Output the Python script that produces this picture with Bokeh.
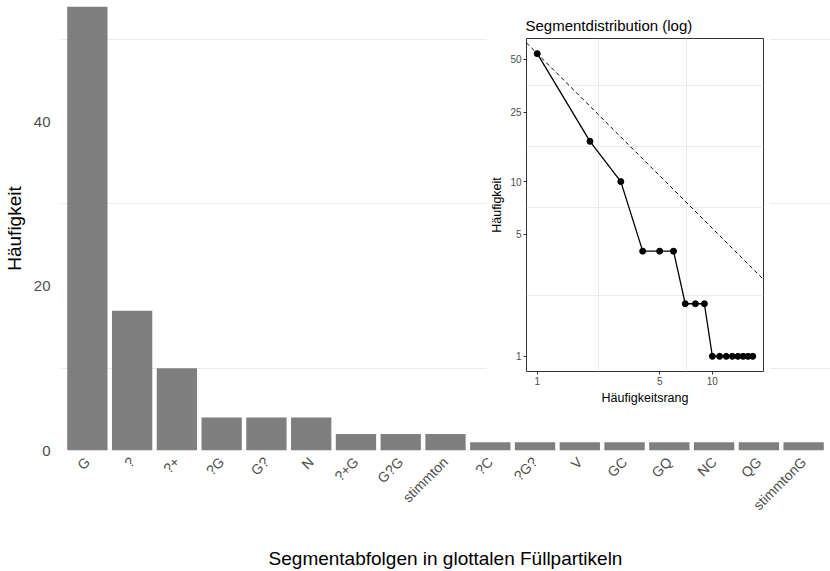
import math
import numpy as np
from bokeh.plotting import figure
from bokeh.models import (ColumnDataSource, FactorRange, Range1d, FixedTicker,
                          NumeralTickFormatter)
from bokeh.embed import file_html
from bokeh.resources import INLINE

# Segment sequences in glottal filler particles and their frequencies
segments = ["G", "?", "?+", "?G", "G?", "N", "?+G", "G?G", "stimmton",
            "?C", "?G?", "V", "GC", "GQ", "NC", "QG", "stimmtonG"]
counts = [54, 17, 10, 4, 4, 4, 2, 2, 2, 1, 1, 1, 1, 1, 1, 1, 1]
ranks = list(range(1, len(counts) + 1))

main_y_ticks = [0, 20, 40]
main_y_minor = [10, 30, 50]
inset_x_ticks = [1, 5, 10]
inset_y_ticks = [1, 5, 10, 25, 50]

FONT = "Liberation Sans"
TICK_GREY = "#4D4D4D"
GRID = "#EBEBEB"

# ---------------- main bar chart ----------------
src = ColumnDataSource(dict(seg=segments, n=counts))
p = figure(width=830, height=571,
           x_range=FactorRange(factors=segments, range_padding=0.1,
                               range_padding_units="absolute"),
           y_range=Range1d(0, max(counts)),
           output_backend="svg", toolbar_location=None,
           min_border_left=58, min_border_right=0,
           min_border_top=6, min_border_bottom=121)
p.vbar(x="seg", top="n", width=0.9, source=src,
       fill_color="#7F7F7F", line_color=None)

p.outline_line_color = None
p.background_fill_color = "white"
p.border_fill_color = "white"

yt = FixedTicker(ticks=main_y_ticks, minor_ticks=main_y_minor)
p.yaxis.ticker = yt
p.ygrid.ticker = yt
p.ygrid.grid_line_color = None
p.ygrid.minor_grid_line_color = GRID
p.ygrid.minor_grid_line_width = 1
p.xgrid.visible = False

for ax in (p.xaxis[0], p.yaxis[0]):
    ax.axis_line_color = None
    ax.major_tick_line_color = None
    ax.major_tick_out = 0
    ax.major_tick_in = 0
    ax.minor_tick_line_color = None
    ax.minor_tick_out = 0
    ax.minor_tick_in = 0
    ax.major_label_text_color = TICK_GREY
    ax.major_label_text_font = FONT
    ax.axis_label_text_font = FONT
    ax.axis_label_text_font_style = "normal"
    ax.axis_label_text_color = "black"
    ax.axis_label_text_font_size = "19px"

p.yaxis.major_label_text_font_size = "15px"
p.yaxis.major_label_standoff = 10
p.yaxis.axis_label = "Häufigkeit"
p.yaxis.axis_label_standoff = 6

p.xaxis.major_label_text_font_size = "14px"
p.xaxis.major_label_orientation = math.pi / 4
p.xaxis.major_label_standoff = 9
p.xaxis.axis_label = "Segmentabfolgen in glottalen Füllpartikeln"
p.xaxis.axis_label_standoff = 26

# ---------------- inset: rank/frequency on log axes ----------------
lx0, lx1 = 0.0, math.log10(max(ranks))
ly0, ly1 = 0.0, math.log10(max(counts))
ex, ey = 0.05 * (lx1 - lx0), 0.05 * (ly1 - ly0)
xr = Range1d(10 ** (lx0 - ex), 10 ** (lx1 + ex))
yr = Range1d(10 ** (ly0 - ey), 10 ** (ly1 + ey))

q = figure(width=284, height=410, x_axis_type="log", y_axis_type="log",
           x_range=xr, y_range=yr,
           title="Segmentdistribution (log)",
           output_backend="svg", toolbar_location=None,
           min_border_left=40, min_border_right=7,
           min_border_top=38, min_border_bottom=39)
q.styles = {"position": "absolute", "left": "486px", "top": "0px"}
q.background_fill_color = "white"
q.border_fill_color = "white"
q.outline_line_color = "#333333"
q.outline_line_width = 1

q.title.text_font = FONT
q.title.text_font_size = "15px"
q.title.text_font_style = "normal"
q.title.text_color = "black"
q.title.align = "left"
q.title.offset = -1

def minor_between(ticks):
    return [math.sqrt(a * b) for a, b in zip(ticks[:-1], ticks[1:])]

qx = FixedTicker(ticks=inset_x_ticks, minor_ticks=minor_between(inset_x_ticks))
qy = FixedTicker(ticks=inset_y_ticks, minor_ticks=minor_between(inset_y_ticks))
q.xaxis.ticker = qx
q.xgrid.ticker = qx
q.yaxis.ticker = qy
q.ygrid.ticker = qy
for g in (q.xgrid[0], q.ygrid[0]):
    g.grid_line_color = None
    g.minor_grid_line_color = GRID
    g.minor_grid_line_width = 1

for ax in (q.xaxis[0], q.yaxis[0]):
    ax.formatter = NumeralTickFormatter(format="0")
    ax.axis_line_color = None
    ax.major_tick_line_color = "#333333"
    ax.major_tick_out = 3
    ax.major_tick_in = 0
    ax.minor_tick_line_color = None
    ax.minor_tick_out = 0
    ax.minor_tick_in = 0
    ax.major_label_standoff = 2
    ax.major_label_text_font = FONT
    ax.major_label_text_font_size = "10px"
    ax.major_label_text_color = TICK_GREY
    ax.axis_label_text_font = FONT
    ax.axis_label_text_font_size = "12.5px"
    ax.axis_label_text_font_style = "normal"
    ax.axis_label_text_color = "black"
    ax.axis_label_standoff = 3

q.xaxis.axis_label = "Häufigkeitsrang"
q.yaxis.axis_label = "Häufigkeit"

# Zipf reference line f(r) = f(1) / r across the visible rank range
zx = np.array([xr.start, xr.end])
q.line(zx, counts[0] / zx, line_color="black", line_width=1, line_dash="4 3")

q.line(ranks, counts, line_color="black", line_width=1.3)
q.scatter(ranks, counts, size=6, fill_color="black", line_color="black")

# the inset is its own root, positioned over the top-right of the bar chart
open("out.html", "w").write(file_html([p, q], INLINE))
